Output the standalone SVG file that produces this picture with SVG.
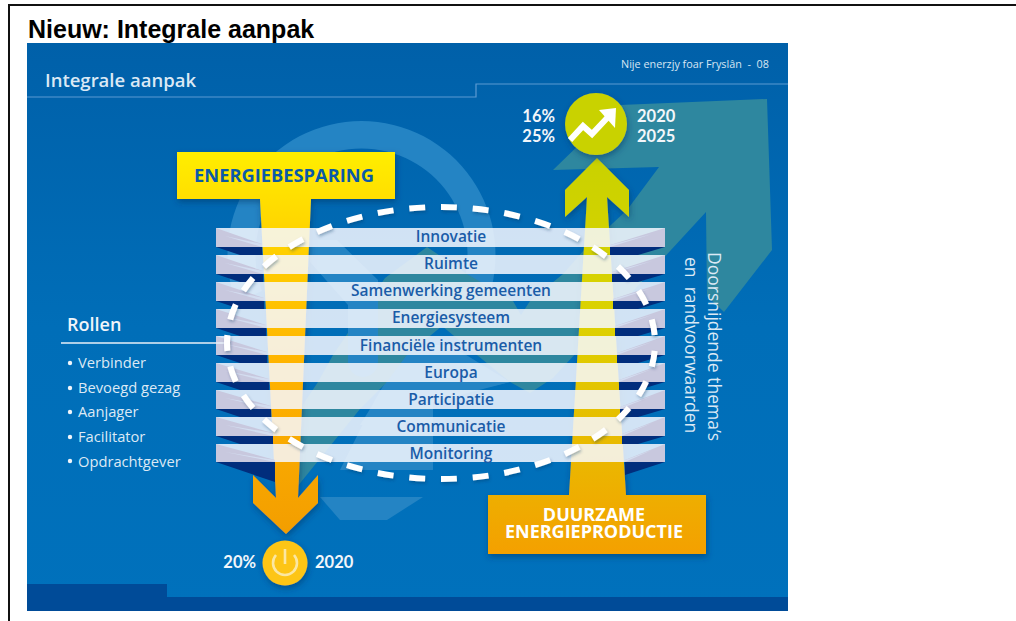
<svg xmlns="http://www.w3.org/2000/svg" width="1016" height="621" viewBox="0 0 1016 621">
<style>
.s{font-family:"Open Sans","Noto Sans",sans-serif}
.bar{fill:#f6f8ff;fill-opacity:.85}
.lab{font-family:"Open Sans","Noto Sans",sans-serif;font-weight:600;font-size:15.5px;fill:#1a5ca8;text-anchor:middle}
.li{font-family:"Open Sans","Noto Sans",sans-serif;font-size:14.7px;fill:#dce9f5}
.num{font-family:Lato,"Open Sans",sans-serif;font-weight:700;font-size:16.5px;fill:#f2f6fa}
.lav{fill:#c8c8de}
.pale{fill:#d3ddf0}
.navy{fill:#012d7c}
.lt{fill:#2484c4}
</style>
<defs>
<linearGradient id="bg" x1="0" y1="0" x2="0" y2="1"><stop offset="0" stop-color="#0060a9"/><stop offset=".5" stop-color="#006eb8"/><stop offset="1" stop-color="#0071bc"/></linearGradient>
<linearGradient id="tY" x1="0" y1="152" x2="0" y2="534" gradientUnits="userSpaceOnUse"><stop offset="0" stop-color="#ffee00"/><stop offset=".2" stop-color="#ffd500"/><stop offset=".55" stop-color="#ffb400"/><stop offset="1" stop-color="#f39e00"/></linearGradient>
<linearGradient id="tG" x1="0" y1="158" x2="0" y2="554" gradientUnits="userSpaceOnUse"><stop offset="0" stop-color="#c9d200"/><stop offset=".4" stop-color="#dcd200"/><stop offset=".75" stop-color="#eab800"/><stop offset="1" stop-color="#f4a000"/></linearGradient>
<filter id="sh" x="-20%" y="-20%" width="140%" height="150%"><feDropShadow dx="1" dy="3" stdDeviation="3" flood-color="#00305f" flood-opacity=".5"/></filter>
<filter id="shd" x="-5%" y="-5%" width="110%" height="110%"><feDropShadow dx="1" dy="2" stdDeviation="1.5" flood-color="#00305f" flood-opacity=".35"/></filter>
</defs>
<g id="frame" fill="none" stroke="#111"><path d="M1016 5H9V621" stroke-width="2"/></g>
<text id="title" x="28" y="38" font-family="'Liberation Sans',Arial,sans-serif" font-weight="700" font-size="25" fill="#000">Nieuw: Integrale aanpak</text>
<g id="panel">
<rect x="27" y="43" width="761" height="568" fill="url(#bg)"/>
<path d="M27 584H167V597H788V611H27Z" fill="#004b98"/>
<path d="M27 97H476V84H788" fill="none" stroke="#5b9ad2" stroke-width="1.2"/>
</g>
<g id="watermark">
<path d="M236 302A134 134 0 1 1 487 302L461 291A106 106 0 1 0 262 291Z" class="lt"/>
<path d="M308 240H337L378 280V320H348V305L310 262Z" class="lt"/>
<path d="M320 497H423L387 520H340Z" class="lt"/>
<path d="M407 345H450L510 382L433 400V470H340L375 400Z" class="lt"/>
<path d="M553 170L620 105L767 99L772 250L724 312L707 296L706 212L553 378L530 393L510 382L477 355L442 326L407 355L387 382L360 409L297 487L280 450L300 409L318 382L333 355L385 278L427 247L467 274L513 301L521 315L530 301L563 274L584 250L627 210L659 167Z" fill="#2e879f"/>
<path d="M348 285H378V362A15 15 0 0 1 348 362Z" class="lt"/>
<path d="M407 355L447 345L510 382L433 402V425H360L387 382Z" class="lt"/>
</g>
<g id="t-arrow-left" filter="url(#sh)">
<path d="M177 152H395V199H311L298 498L318 475V503L286 534L253 503V475L276 498L260 199H177Z" fill="url(#tY)"/>
</g>
<g id="t-arrow-right" filter="url(#sh)">
<path d="M597 158L629 190V217L607 197L626 495H706V554H488V495H569L587 197L565 217V190Z" fill="url(#tG)"/>
</g>
<g id="wedges">
<path class="navy" d="M216 247H262V255H240Z M216 274H263V282H240Z M216 301H264V309H240Z M216 328H266V336H240Z M216 355H267V363H240Z M216 382H269V390H240Z M216 409H271V417H240Z M216 436H273V444H240Z M216 462H275V482Z"/>
<path class="navy" d="M665 247H610V255H638Z M665 274H612V282H638Z M665 301H613V309H638Z M665 328H615V336H638Z M665 355H617V363H638Z M665 382H619V390H638Z M665 409H620V417H638Z M665 436H622V444H638Z M665 462H625V475Z"/>
</g>
<g id="bars">
<rect class="bar" x="216" y="228" width="449" height="19"/><rect class="bar" x="216" y="255" width="449" height="19"/><rect class="bar" x="216" y="282" width="449" height="19"/><rect class="bar" x="216" y="309" width="449" height="19"/><rect class="bar" x="216" y="336" width="449" height="19"/><rect class="bar" x="216" y="363" width="449" height="19"/><rect class="bar" x="216" y="390" width="449" height="19"/><rect class="bar" x="216" y="417" width="449" height="19"/><rect class="bar" x="216" y="444" width="449" height="18"/>
<path class="lav" d="M216 228L262 244V247H216Z M216 255L263 271V274H216Z M216 282L264 298V301H216Z M216 309L266 325V328H216Z M216 336L267 352V355H216Z M216 363L269 379V382H216Z M216 390L271 406V409H216Z M216 417L273 433V436H216Z M216 444L275 460V462H216Z"/>
<path class="pale" d="M225 236L262 244V247Z M225 263L263 271V274Z M225 290L264 298V301Z M225 317L266 325V328Z M225 344L267 352V355Z M225 371L269 379V382Z M225 398L271 406V409Z M225 425L273 433V436Z M225 452L275 460V462Z"/>
<path class="lav" d="M665 228L610 245V247H665Z M665 255L612 272V274H665Z M665 282L613 299V301H665Z M665 309L615 326V328H665Z M665 336L617 353V355H665Z M665 363L619 380V382H665Z M665 390L620 407V409H665Z M665 417L622 434V436H665Z M665 444L625 460V462H665Z"/>
<path class="pale" d="M652 234L610 245V247Z M652 261L612 272V274Z M652 288L613 299V301Z M652 315L615 326V328Z M652 342L617 353V355Z M652 369L619 380V382Z M652 396L620 407V409Z M652 423L622 434V436Z M652 450L625 460V462Z"/>
</g>
<g id="bar-labels">
<text class="lab" x="451" y="241.5">Innovatie</text>
<text class="lab" x="451" y="268.5">Ruimte</text>
<text class="lab" x="451" y="296">Samenwerking gemeenten</text>
<text class="lab" x="451" y="323">Energiesysteem</text>
<text class="lab" x="451" y="350.5">Financiële instrumenten</text>
<text class="lab" x="451" y="377.5">Europa</text>
<text class="lab" x="451" y="404.5">Participatie</text>
<text class="lab" x="451" y="431.5">Communicatie</text>
<text class="lab" x="451" y="458.5">Monitoring</text>
</g>
<g id="connectors">
<line x1="61" y1="343" x2="227" y2="343" stroke="#e8f0f8" stroke-width="1.3"/>
<path filter="url(#shd)" pathLength="350" d="M227 343A214 136 0 1 1 655 343A214 136 0 1 1 227 343Z" fill="none" stroke="#fff" stroke-width="6" stroke-dasharray="5 5" stroke-dashoffset="2.5"/>
</g>
<g id="box-energiebesparing"><text class="s" x="284" y="182" text-anchor="middle" font-weight="700" font-size="18.3" fill="#0a5aa8">ENERGIEBESPARING</text></g>
<g id="box-duurzame"><text class="s" font-weight="700" font-size="18" fill="#fff" text-anchor="middle"><tspan x="594" y="521">DUURZAME</tspan><tspan x="594" y="538">ENERGIEPRODUCTIE</tspan></text></g>
<g id="header-texts">
<text class="s" x="45" y="87" font-weight="600" font-size="18.5" fill="#dbe9f5">Integrale aanpak</text>
<text class="s" x="621" y="68" font-size="10.8" fill="#d8e6f3" xml:space="preserve">Nije enerzjy foar Fryslân  -  08</text>
</g>
<g id="rollen">
<text class="s" x="67" y="331" font-weight="600" font-size="18" fill="#f0f5fa">Rollen</text>
<g fill="#f0f5fa"><circle cx="70" cy="363" r="2.2"/><circle cx="70" cy="388" r="2.2"/><circle cx="70" cy="412" r="2.2"/><circle cx="70" cy="437" r="2.2"/><circle cx="70" cy="461" r="2.2"/></g>
<text class="li" x="78" y="368">Verbinder</text>
<text class="li" x="78" y="393">Bevoegd gezag</text>
<text class="li" x="78" y="417">Aanjager</text>
<text class="li" x="78" y="442">Facilitator</text>
<text class="li" x="78" y="467">Opdrachtgever</text>
</g>
<g id="node-growth">
<circle cx="596" cy="124" r="31" fill="#c9d200" filter="url(#sh)"/>
<path d="M570 140L583 126L592 134L609 116" fill="none" stroke="#fff" stroke-width="6"/>
<path d="M599 110L616 108L615 128Z" fill="#fff"/>
<text class="num" x="555" y="122" text-anchor="end">16%</text>
<text class="num" x="555" y="142" text-anchor="end">25%</text>
<text class="num" x="637" y="122">2020</text>
<text class="num" x="637" y="142">2025</text>
</g>
<g id="node-power">
<circle cx="285" cy="563" r="22.5" fill="#fdc513" filter="url(#sh)"/>
<path d="M276 555A12 12 0 1 0 294 555M285 549V564" fill="none" stroke="#fbe7a3" stroke-width="2.6"/>
<text class="num" x="256" y="568" text-anchor="end">20%</text>
<text class="num" x="315" y="568">2020</text>
</g>
<g id="side-text" class="s" font-size="17.5" fill="#dbe9f5">
<text transform="translate(708 252) rotate(90)">Doorsnijdende thema’s</text>
<text transform="translate(685 257) rotate(90)" xml:space="preserve">en  randvoorwaarden</text>
</g>
</svg>
